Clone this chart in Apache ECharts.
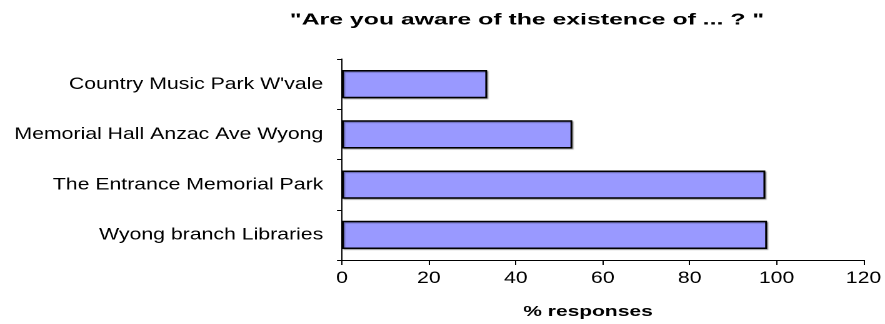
<!DOCTYPE html>
<html>
<head>
<meta charset="utf-8">
<script src="https://cdn.jsdelivr.net/npm/echarts@6/dist/echarts.min.js"></script>
<style>
  html, body { margin: 0; padding: 0; background: #fff; }
  #frame { width: 885px; height: 324px; overflow: hidden; position: relative; }
  /* The chart is laid out on a narrower canvas and widened horizontally,
     giving the broad, stretched lettering of the original figure. */
  #chart { width: 708px; height: 324px; transform: scaleX(1.25); transform-origin: 0 0; }
</style>
</head>
<body>
<div id="frame"><div id="chart"></div></div>
<script>
// Venues, listed bottom to top along the category axis
const venues = [
  'Wyong branch Libraries',
  'The Entrance Memorial Park',
  'Memorial Hall Anzac Ave Wyong',
  "Country Music Park W'vale"
];
// Share of respondents aware of each venue (%)
const awareness = [97.8, 97.4, 53.0, 33.4];
// Value-axis range and tick step
const axisMin = 0;
const axisMax = 120;
const axisStep = 20;

const chartTitle = '"Are you aware of the existence of ... ? "';
const valueAxisTitle = '% responses';

const FONT = '"Liberation Sans", Arial, sans-serif';

const chart = echarts.init(document.getElementById('chart'), null, { devicePixelRatio: 2 });
chart.setOption({
  animation: false,
  backgroundColor: '#ffffff',
  // Bold headings are drawn as wide, loosely set text
  graphic: {
    elements: [
      {
        type: 'text',
        x: 421.6,
        y: 20,
        scaleX: 1.24,
        style: {
          text: chartTitle,
          fontFamily: FONT, fontSize: 16, fontWeight: 'bold', fill: '#000',
          align: 'center', verticalAlign: 'middle'
        }
      },
      {
        type: 'text',
        x: 470.4,
        y: 312,
        scaleX: 1.12,
        style: {
          text: valueAxisTitle,
          fontFamily: FONT, fontSize: 15, fontWeight: 'bold', fill: '#000',
          align: 'center', verticalAlign: 'middle'
        }
      }
    ]
  },
  grid: { left: 273.6, right: 16.8, top: 59, bottom: 64, containLabel: false },
  xAxis: {
    type: 'value',
    min: axisMin,
    max: axisMax,
    interval: axisStep,
    axisLine: { show: true, lineStyle: { color: '#000', width: 1 } },
    axisTick: { show: true, length: 5, lineStyle: { color: '#000', width: 1 } },
    axisLabel: { fontFamily: FONT, fontSize: 17, color: '#000', margin: 10 },
    splitLine: { show: false }
  },
  yAxis: {
    type: 'category',
    data: venues,
    axisLine: { show: true, lineStyle: { color: '#000', width: 1 } },
    axisTick: { show: true, length: 4, lineStyle: { color: '#000', width: 1 } },
    axisLabel: { fontFamily: FONT, fontSize: 17, color: '#000', margin: 15 },
    splitLine: { show: false }
  },
  series: [{
    type: 'bar',
    data: awareness,
    barCategoryGap: '44%',
    itemStyle: {
      color: '#9999ff',
      borderColor: '#000',
      borderWidth: 1.5,
      shadowColor: 'rgba(0,0,0,0.35)',
      shadowBlur: 1,
      shadowOffsetX: 1,
      shadowOffsetY: 1
    }
  }]
});
</script>
</body>
</html>
